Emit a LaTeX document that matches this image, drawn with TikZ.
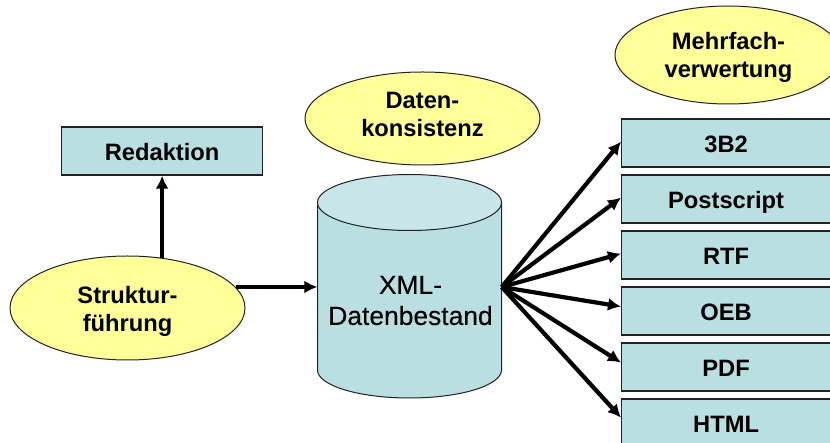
\documentclass[tikz,border=0pt]{standalone}
\usepackage{fontspec}
\setmainfont{Liberation Sans}
\usetikzlibrary{shapes.geometric,arrows.meta}
\definecolor{boxfill}{HTML}{B9DFE2}
\definecolor{topfill}{HTML}{C8E6E9}
\definecolor{oval}{HTML}{FFFF99}
\definecolor{edge}{HTML}{222222}
\tikzset{
  lab/.style={font=\fontsize{23.7}{28}\selectfont\bfseries},
  boxn/.style={lab,draw=edge,line width=1.2pt,fill=boxfill,rectangle,inner sep=0pt,minimum width=209pt,minimum height=48pt,anchor=north west,text height=19.6pt,text depth=0pt},
  ovaln/.style={draw=edge,line width=1pt,fill=oval,ellipse,inner sep=0pt},
  ovaltext/.style={lab,align=center,inner sep=0pt},
  conn/.style={line width=4.2pt,-{Latex[length=13pt,width=13pt]}},
}
\begin{document}
\begin{tikzpicture}[x=1pt,y=-1pt]
\useasboundingbox (0,0) rectangle (830,443);
\clip (0,0) rectangle (830,443);
% cylinder
\path[fill=boxfill,draw=edge,line width=1pt] (317.5,202.5) -- (317.5,370) arc[start angle=180,end angle=360,x radius=92,y radius=-28] -- (501.5,202.5) -- cycle;
\path[fill=topfill,draw=edge,line width=1pt] (409.5,202.5) ellipse[x radius=92,y radius=28];
\node[rectangle,minimum width=184pt,minimum height=224pt,inner sep=0pt] (db) at (409.5,287) {};
\node[align=center,inner sep=0pt,font=\fontsize{26.4}{31}\selectfont\addfontfeature{FakeBold=0.2}] (dbtext) at (410.5,300.5) {XML-\\Datenbestand};
% boxes
\node[boxn,minimum width=201pt] (red) at (61,126.5) {Redaktion};
\node[boxn] (b1) at (621,118.5) {3B2};
\node[boxn] (b2) at (621,174.5) {Postscript};
\node[boxn] (b3) at (621,230.5) {RTF};
\node[boxn] (b4) at (621,286.5) {OEB};
\node[boxn] (b5) at (621,342.5) {PDF};
\node[boxn,minimum height=56pt,text height=11.6pt] (b6) at (621,398.5) {HTML};
% ovals
\node[ovaln,minimum width=235pt,minimum height=93pt] (dk) at (422.5,118.5) {};
\node[ovaltext] (dkt) at (422.5,114) {Daten-\\konsistenz};
\node[ovaln,minimum width=226pt,minimum height=98pt] (mv) at (728,55) {};
\node[ovaltext] (mvt) at (728.5,57) {Mehrfach-\\verwertung};
\node[ovaln,minimum width=235pt,minimum height=104pt] (su) at (127.5,308) {};
\node[ovaltext] (sut) at (127.5,311) {Struktur-\\führung};
% connectors
\draw[conn] ([yshift=-2.5pt]su.north -| red.south) -- (red.south);
\draw[conn] ([xshift=-10pt]su.east |- db.west) -- (db.west);
\draw[conn] (db.east) -- ([yshift=1.5pt]b1.west);
\draw[conn] (db.east) -- ([yshift=1.5pt]b2.west);
\draw[conn] (db.east) -- ([yshift=1.5pt]b3.west);
\draw[conn] (db.east) -- ([yshift=4.5pt]b4.west);
\draw[conn] (db.east) -- ([yshift=4.5pt]b5.west);
\draw[conn] (db.east) -- ([yshift=9.5pt]b6.west);
\end{tikzpicture}
\end{document}
